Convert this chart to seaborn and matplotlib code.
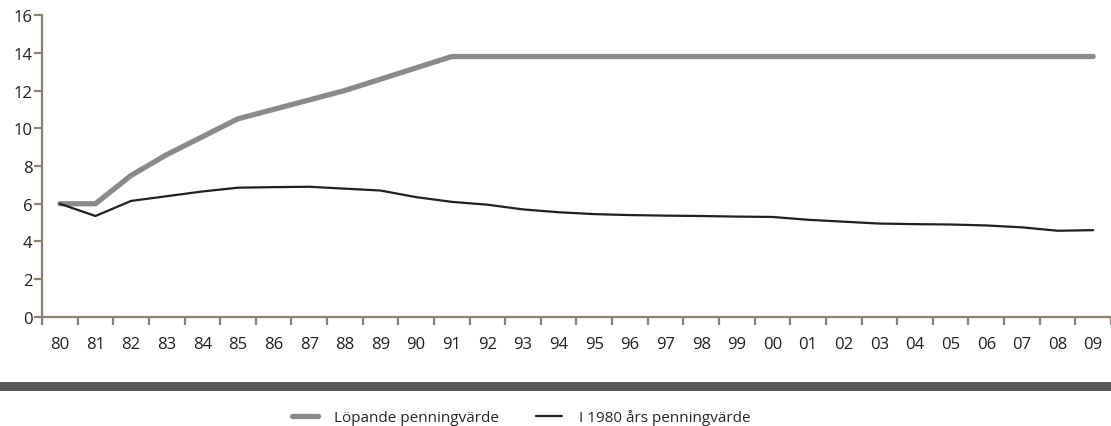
import numpy as np
import pandas as pd
import matplotlib
matplotlib.use('Agg')
import matplotlib.pyplot as plt
from matplotlib.lines import Line2D
from matplotlib.patches import Rectangle
import seaborn as sns

years = ['80', '81', '82', '83', '84', '85', '86', '87', '88', '89',
         '90', '91', '92', '93', '94', '95', '96', '97', '98', '99',
         '00', '01', '02', '03', '04', '05', '06', '07', '08', '09']
lopande = [6.0, 6.0, 7.5, 8.6, 9.55, 10.5, 11.0, 11.5, 12.0, 12.6,
           13.2, 13.8, 13.8, 13.8, 13.8, 13.8, 13.8, 13.8, 13.8, 13.8,
           13.8, 13.8, 13.8, 13.8, 13.8, 13.8, 13.8, 13.8, 13.8, 13.8]
fast_1980 = [6.0, 5.35, 6.15, 6.4, 6.65, 6.85, 6.88, 6.9, 6.8, 6.7,
             6.35, 6.1, 5.95, 5.7, 5.55, 5.45, 5.4, 5.37, 5.35, 5.32,
             5.3, 5.15, 5.05, 4.95, 4.92, 4.9, 4.85, 4.75, 4.57, 4.6]
labels = ['Löpande penningvärde', 'I 1980 års penningvärde']

sns.set_theme(style='white')
plt.rcParams['font.family'] = ['Open Sans', 'DejaVu Sans']

axis_col = '#8c8272'
gray = '#8a8a8c'
black = '#231f20'

df = pd.DataFrame({'x': np.arange(len(years)), labels[0]: lopande, labels[1]: fast_1980})
long = df.melt(id_vars='x', var_name='serie', value_name='v')

fig = plt.figure(figsize=(11.11, 4.27), dpi=100)
ax = fig.add_axes([0.0378, 0.2553, 0.9622, 0.7072])

sns.lineplot(data=long[long.serie == labels[0]], x='x', y='v', color=gray,
             linewidth=3.8, ax=ax, legend=False, solid_capstyle='round')
sns.lineplot(data=long[long.serie == labels[1]], x='x', y='v', color=black,
             linewidth=1.6, ax=ax, legend=False)

ax.set_xlim(-0.5, len(years) - 0.5)
ax.set_ylim(0, 16)
ax.set_yticks(range(0, 17, 2))
ax.set_xticks(np.arange(len(years)))
ax.set_xticklabels(years)
ax.set_xticks(np.arange(len(years) + 1) - 0.5, minor=True)
ax.set_xlabel('')
ax.set_ylabel('')

for s in ['top', 'right']:
    ax.spines[s].set_visible(False)
for s in ['left', 'bottom']:
    ax.spines[s].set_color(axis_col)
    ax.spines[s].set_linewidth(1.6)

ax.tick_params(axis='x', which='major', length=0, pad=14, labelsize=12, labelcolor='#231f20')
ax.tick_params(axis='x', which='minor', length=6, width=1.6, color=axis_col, direction='out', bottom=True)
ax.tick_params(axis='y', length=6, width=1.6, color=axis_col, direction='out', left=True,
               pad=1, labelsize=12, labelcolor='#231f20')

fig.patches.append(Rectangle((0, 0.082), 1, 0.021, transform=fig.transFigure,
                             facecolor='#58595b', edgecolor='none'))

handles = [Line2D([], [], color=gray, linewidth=3.8, solid_capstyle='round'),
           Line2D([], [], color=black, linewidth=1.6)]
fig.legend(handles, labels, loc='center', bbox_to_anchor=(0.469, 0.02), ncol=2,
           frameon=False, fontsize=11, handlelength=1.7, columnspacing=2.4,
           handletextpad=1.1)

fig.savefig('out.png', dpi=100)
